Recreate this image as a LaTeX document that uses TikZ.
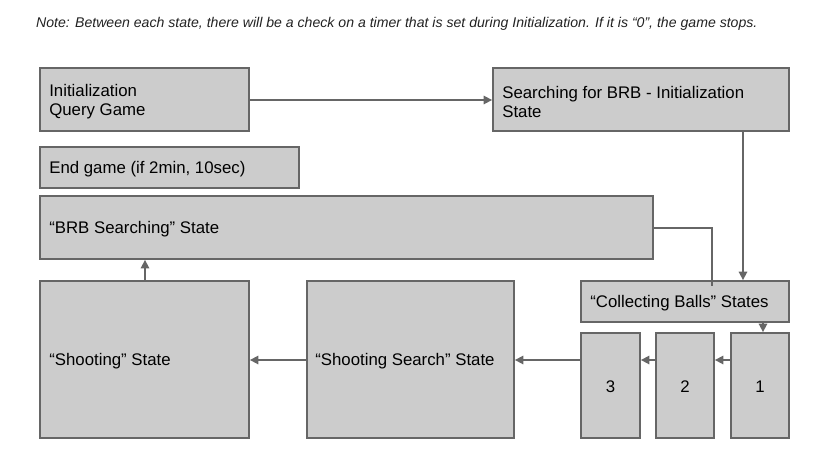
\documentclass[tikz,border=0pt]{standalone}
\usepackage{fontspec}
\setmainfont{Liberation Sans}
\usetikzlibrary{arrows.meta}
\definecolor{boxfill}{HTML}{CCCCCC}
\definecolor{boxline}{HTML}{666666}
\definecolor{notecol}{HTML}{222222}
\tikzset{
  box/.style={draw=boxline, fill=boxfill, line width=1.8pt, inner sep=0pt},
  txt/.style={anchor=west, inner sep=0pt, align=left, xshift=10pt, yshift=-2pt,
    font=\fontsize{16.8}{19}\selectfont, text=black},
  num/.style={inner sep=0pt, font=\fontsize{16.8}{19}\selectfont, text=black},
  arr/.style={draw=boxline, line width=1.6pt, -{Triangle[length=8.5pt,width=8.5pt]}},
  ln/.style={draw=boxline, line width=1.6pt},
}
\begin{document}
\begin{tikzpicture}[x=1pt,y=-1pt]
\useasboundingbox (0,0) rectangle (823,459);
\node[anchor=base west, font=\fontsize{14.1}{16}\selectfont\itshape, text=notecol, inner sep=0pt] (note) at (36,27)
  {Note: Between each state, there will be a check on a timer that is set during Initialization. If it is “0”, the game stops.};
% boxes
\node[box, minimum width=209pt, minimum height=63pt] (init) at (144.5,99.5) {};
\node[box, minimum width=296pt, minimum height=63pt] (sbrb) at (641,99.5) {};
\node[box, minimum width=259pt, minimum height=41pt] (endg) at (169.5,167.5) {};
\node[box, minimum width=613pt, minimum height=63pt] (brbs) at (346.5,227.5) {};
\node[box, minimum width=208pt, minimum height=41pt] (coll) at (685,301.5) {};
\node[box, minimum width=58pt, minimum height=105pt] (b1) at (760,385.5) {};
\node[box, minimum width=58pt, minimum height=105pt] (b2) at (685,385.5) {};
\node[box, minimum width=59pt, minimum height=105pt] (b3) at (610.5,385.5) {};
\node[box, minimum width=207pt, minimum height=157pt] (shs) at (410.5,359.5) {};
\node[box, minimum width=209pt, minimum height=157pt] (sh) at (144.5,359.5) {};
% texts
\node[txt] (tinit) at (init.west) {Initialization\\Query Game};
\node[txt] (tsbrb) at (sbrb.west) {Searching for BRB - Initialization\\State};
\node[txt] (tendg) at (endg.west) {End game (if 2min, 10sec)};
\node[txt] (tbrbs) at (brbs.west) {“BRB Searching” State};
\node[txt] (tcoll) at (coll.west) {“Collecting Balls” States};
\node[txt, xshift=-1pt] (tshs) at (shs.west) {“Shooting Search” State};
\node[txt] (tsh) at (sh.west) {“Shooting” State};
\node[num] (t1) at ([yshift=-1pt]b1.center) {1};
\node[num] (t2) at ([yshift=-1pt]b2.center) {2};
\node[num] (t3) at ([yshift=-1pt]b3.center) {3};
% connectors
\coordinate (xa) at (743,0);
\coordinate (xb) at (763,0);
\coordinate (xs) at (145,0);
\coordinate (yi) at (0,100);
\coordinate (yb) at (0,228);
\coordinate (ya) at (0,360);
\coordinate (cb) at (712,286);
\draw[arr] (init.east |- yi) -- (sbrb.west |- yi);
\draw[arr] (sbrb.south -| xa) -- (coll.north -| xa);
\draw[ln] (brbs.east |- yb) -| (cb);
\draw[arr] (coll.south -| xb) -- (b1.north -| xb);
\draw[arr] (b1.west |- ya) -- (b2.east |- ya);
\draw[arr] (b2.west |- ya) -- (b3.east |- ya);
\draw[arr] (b3.west |- ya) -- (shs.east |- ya);
\draw[arr] (shs.west |- ya) -- (sh.east |- ya);
\draw[arr] (sh.north -| xs) -- (brbs.south -| xs);
\end{tikzpicture}
\end{document}
